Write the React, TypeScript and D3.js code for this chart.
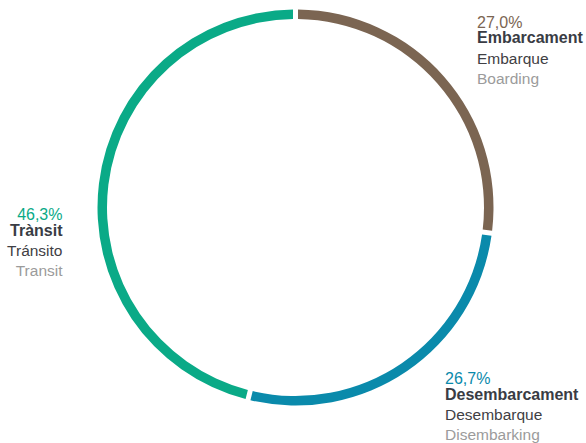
import React from "react";
import * as d3 from "d3";

const categories = ["Embarcament", "Desembarcament", "Trànsit"];
const spanishLabels = ["Embarque", "Desembarque", "Tránsito"];
const englishLabels = ["Boarding", "Disembarking", "Transit"];
const values = [27.0, 26.7, 46.3];
const percentLabels = ["27,0%", "26,7%", "46,3%"];
const colors = ["#7b6552", "#0a8aab", "#0aaa87"];

const W = 586;
const H = 443;
const cx = 295.5;
const cy = 207.5;
const outerR = 198;
const innerR = 188.5;

// label anchors: [x, first baseline, anchor]
const labelPos: [number, number, "start" | "end"][] = [
  [477, 27.5, "start"],
  [445, 384, "start"],
  [62.5, 220, "end"],
];

export default function App() {
  const pie = d3
    .pie<number>()
    .sort(null)
    .value((d) => d)
    .padAngle(5 / 200);
  const arcs = pie(values);
  const arcGen = d3
    .arc<d3.PieArcDatum<number>>()
    .innerRadius(innerR)
    .outerRadius(outerR)
    .padRadius(200);

  const font = "'Liberation Sans', Arial, Helvetica, sans-serif";

  return (
    <svg
      width={W}
      height={H}
      style={{ position: "absolute", left: 0, top: 0, background: "#fff" }}
      fontFamily={font}
    >
      <g transform={`translate(${cx},${cy})`}>
        {arcs.map((a, i) => (
          <path key={i} d={arcGen(a) || ""} fill={colors[i]} />
        ))}
      </g>
      {categories.map((c, i) => {
        const [x, y, anchor] = labelPos[i];
        return (
          <g key={c} textAnchor={anchor}>
            <text x={x} y={y} fontSize={16} fill={colors[i]}>
              {percentLabels[i]}
            </text>
            <text x={x} y={y + 15.5} fontSize={16} fontWeight="bold" fill="#393c44">
              {c}
            </text>
            <text x={x} y={y + 36} fontSize={15.5} fill="#3f4044">
              {spanishLabels[i]}
            </text>
            <text x={x} y={y + 56} fontSize={15.5} fill="#9b9b9b">
              {englishLabels[i]}
            </text>
          </g>
        );
      })}
    </svg>
  );
}
